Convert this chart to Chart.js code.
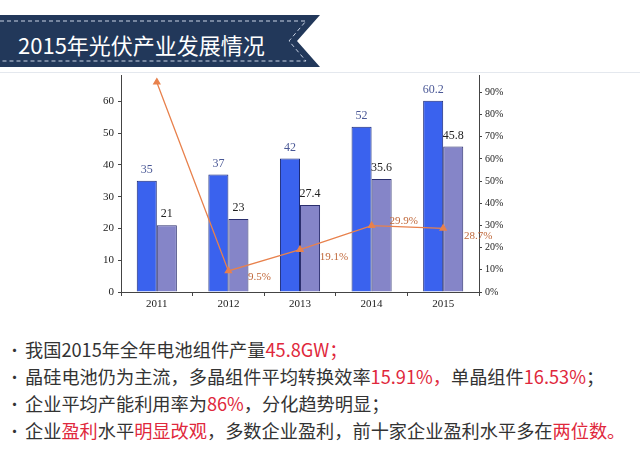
<!DOCTYPE html>
<html>
<head>
<meta charset="utf-8">
<script src="https://cdn.jsdelivr.net/npm/chart.js@4.4.1/dist/chart.umd.min.js"></script>
<style>
  html, body { margin: 0; padding: 0; background: #fff; }
  #page { position: relative; width: 640px; height: 454px; overflow: hidden; font-family: "Noto Sans CJK SC", "Noto Sans", sans-serif; }
  #banner { position: absolute; left: 0; top: 0; }
  #title { position: absolute; left: 18px; top: 28px; font-size: 22px; color: #fff; line-height: 32px; white-space: nowrap; }
  #chartBox { position: absolute; left: 0; top: 70px; width: 640px; height: 250px; }
  #notes { position: absolute; left: 0; top: 336px; width: 640px; }
  .note { position: relative; height: 27px; line-height: 27px; font-size: 18.2px; color: #333; white-space: nowrap; padding-left: 25px; }
  .note::before { content: "•"; position: absolute; left: 7px; top: 0; font-size: 15px; color: #333; }
  .red { color: #e0283c; }
</style>
</head>
<body>
<div id="page">
  <svg id="banner" width="640" height="80">
    <line x1="0" y1="72.5" x2="640" y2="72.5" stroke="#e4e8ee" stroke-width="1"/>
    <polygon points="0,15 320,15 297,41 320,67 0,67" fill="#22385a"/>
    <polyline points="0,21 306,21 289,41 306,61 0,61" fill="none" stroke="#c8d2e4" stroke-width="1" stroke-dasharray="4 3"/>
  </svg>
  <div id="title">2015年光伏产业发展情况</div>
  <div id="chartBox"><canvas id="pvChart" width="640" height="250"></canvas></div>
  <div id="notes">
    <div class="note">我国2015年全年电池组件产量<span class="red">45.8GW；</span></div>
    <div class="note">晶硅电池仍为主流，多晶组件平均转换效率<span class="red">15.91%，</span>单晶组件<span class="red">16.53%</span>；</div>
    <div class="note">企业平均产能利用率为<span class="red">86%</span>，分化趋势明显；</div>
    <div class="note">企业<span class="red">盈利</span>水平<span class="red">明显改观</span>，多数企业盈利，前十家企业盈利水平多在<span class="red">两位数。</span></div>
  </div>
</div>
<script>
const years = ["2011", "2012", "2013", "2014", "2015"]
const capacity = [35, 37, 42, 52, 60.2]
const output = [21, 23, 27.4, 35.6, 45.8]
const rate = [94.6, 9.5, 19.1, 29.9, 28.7]
const rateLabels = ["", "9.5%", "19.1%", "29.9%", "28.7%"]
const leftTicks = [0, 10, 20, 30, 40, 50, 60]
const rightTicks = [0, 10, 20, 30, 40, 50, 60, 70, 80, 90]

const serif = "'Liberation Serif', 'DejaVu Serif', serif"

// étiquettes de valeurs au-dessus des barres et à côté des points
const valueLabels = {
  id: "valueLabels",
  afterDatasetsDraw(chart) {
    const ctx = chart.ctx
    ctx.save()
    ctx.font = "12px " + serif
    ctx.textAlign = "center"
    ctx.textBaseline = "middle"
    chart.getDatasetMeta(1).data.forEach((bar, i) => {
      ctx.fillStyle = "#4a5896"
      ctx.fillText(String(capacity[i]), bar.x, bar.y - 11)
    })
    chart.getDatasetMeta(2).data.forEach((bar, i) => {
      ctx.fillStyle = "#222"
      ctx.fillText(String(output[i]), bar.x, bar.y - 11)
    })
    const offsets = [[0, 0], [31, 6], [34, 7], [32, -5], [35, 8]]
    ctx.fillStyle = "#c0683a"
    ctx.font = "11px " + serif
    chart.getDatasetMeta(0).data.forEach((pt, i) => {
      if (!rateLabels[i]) return
      ctx.fillText(rateLabels[i], pt.x + offsets[i][0], pt.y + offsets[i][1])
    })
    ctx.restore()
  },
}

// largeur fixe des axes verticaux, sans marge pour les étiquettes extrêmes
function fixVertical(width) {
  return (scale) => {
    scale.width = width
    scale.paddingTop = 0
    scale.paddingBottom = 0
  }
}

new Chart(document.getElementById("pvChart"), {
  type: "bar",
  data: {
    labels: years,
    datasets: [
      {
        type: "line",
        data: rate,
        yAxisID: "y1",
        borderColor: "#e8814c",
        backgroundColor: "#e8814c",
        borderWidth: 1.3,
        pointStyle: "triangle",
        pointRadius: 3.5,
        tension: 0,
        order: 0,
      },
      {
        data: capacity,
        yAxisID: "y",
        backgroundColor: "#3a62ee",
        borderColor: "#1b2a78",
        borderWidth: 1,
        order: 1,
      },
      {
        data: output,
        yAxisID: "y",
        backgroundColor: "#8585c8",
        borderColor: "#2b2f6e",
        borderWidth: 1,
        order: 1,
      },
    ],
  },
  options: {
    responsive: false,
    animation: false,
    maintainAspectRatio: false,
    layout: { padding: { top: 3, left: 0, right: 0, bottom: 0 } },
    plugins: { legend: { display: false }, tooltip: { enabled: false } },
    datasets: { bar: { categoryPercentage: 0.56, barPercentage: 1 } },
    scales: {
      x: {
        grid: { drawOnChartArea: false, tickLength: 4, color: "#444" },
        border: { color: "#444", width: 1 },
        ticks: { color: "#222", font: { family: serif, size: 11 }, padding: 2, maxRotation: 0 },
        afterFit(scale) {
          scale.height = 28
          scale.paddingLeft = 0
          scale.paddingRight = 0
        },
      },
      y: {
        position: "left",
        min: 0,
        max: 68.2,
        afterBuildTicks(scale) { scale.ticks = leftTicks.map((v) => ({ value: v })) },
        grid: { drawOnChartArea: false, tickLength: 3, color: "#444" },
        border: { color: "#444", width: 1 },
        ticks: { color: "#222", font: { family: serif, size: 11 }, padding: 4 },
        afterFit: fixVertical(121),
      },
      y1: {
        position: "right",
        min: 0,
        max: 97.7,
        afterBuildTicks(scale) { scale.ticks = rightTicks.map((v) => ({ value: v })) },
        grid: { drawOnChartArea: false, tickLength: 3, color: "#444" },
        border: { color: "#444", width: 1 },
        ticks: { color: "#222", font: { family: serif, size: 10 }, padding: 3, callback: (v) => v + "%" },
        afterFit: fixVertical(161),
      },
    },
  },
  plugins: [valueLabels],
})
</script>
</body>
</html>
